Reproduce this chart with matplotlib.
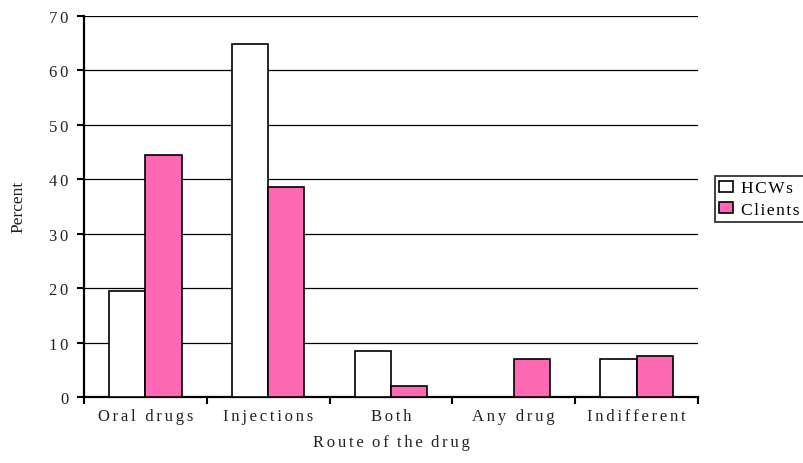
import matplotlib
matplotlib.use("Agg")
import matplotlib.pyplot as plt
import numpy as np

categories = ["Oral drugs", "Injections", "Both", "Any drug", "Indifferent"]
hcws = [19.4, 64.8, 8.4, 0.0, 6.9]
clients = [44.5, 38.6, 2.1, 6.9, 7.6]
yticks = [0, 10, 20, 30, 40, 50, 60, 70]

FONT = ['Liberation Serif', 'DejaVu Serif']
SP = '\u2006'
HSP = '\u200a'

def spaced(s, sp=SP):
    return sp.join(list(s))

plt.rcParams['font.family'] = FONT

fig = plt.figure(figsize=(8.04, 4.64), dpi=100)
ax = fig.add_axes([84/804, 1-398/464, (698-84)/804, (398-17)/464])

x = np.arange(len(categories))
w = 0.295
b1 = ax.bar(x - w/2, hcws, w, color='white', edgecolor='black', linewidth=1.2, label='HCWs', zorder=3)
b2 = ax.bar(x + w/2, clients, w, color='#FF69B4', edgecolor='black', linewidth=1.2, label='Clients', zorder=3)

ax.set_xlim(-0.5, len(categories) - 0.5)
ax.set_ylim(0, 70)
ax.set_yticks(yticks)
ax.set_yticklabels([spaced(str(v)) for v in yticks], fontsize=12, color='#222222')
ax.yaxis.grid(True, color='black', linewidth=0.9, zorder=0)
ax.set_axisbelow(True)

ax.set_xticks(np.arange(len(categories) + 1) - 0.5, minor=False)
ax.set_xticklabels([])
ax.set_xticks(x, minor=True)
ax.set_xticklabels([spaced(c) for c in categories], minor=True, fontsize=12, color='#222222')
ax.tick_params(axis='x', which='minor', length=0, pad=8)
ax.tick_params(axis='x', which='major', length=5, width=1.5, direction='out')
ax.tick_params(axis='y', length=5, width=1.5, direction='out', pad=6)

for s in ['top', 'right']:
    ax.spines[s].set_visible(False)
ax.spines['left'].set_linewidth(1.6)
ax.spines['bottom'].set_linewidth(1.6)

ax.set_xlabel(spaced('Route') + '  ' + spaced('of') + '  ' + spaced('the') + '  ' + spaced('drug'),
              fontsize=12, labelpad=7, color='#222222')
fig.text(18/804, 1-207/464, 'Percent', rotation=90, ha='center', va='center', fontsize=12.5, color='#222222')

leg = fig.legend(handles=[b1[0], b2[0]],
                 labels=[spaced('HCWs', HSP), spaced('Clients', HSP)],
                 loc='upper left', bbox_to_anchor=(715/804, 1-177/464),
                 frameon=True, fancybox=False, edgecolor='black', fontsize=12.5,
                 handlelength=0.8, handleheight=0.6, handletextpad=0.45,
                 borderpad=0.25, labelspacing=0.3, borderaxespad=0)
leg.get_frame().set_linewidth(1.3)

fig.savefig('out.png', dpi=100)
